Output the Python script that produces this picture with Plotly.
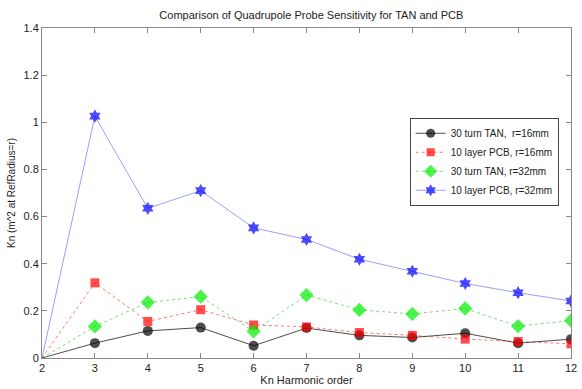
import plotly.graph_objects as go

harmonic = [2, 3, 4, 5, 6, 7, 8, 9, 10, 11, 12]
tan_16 = [0, 0.063, 0.115, 0.129, 0.052, 0.127, 0.096, 0.087, 0.105, 0.063, 0.080]
pcb_16 = [0, 0.319, 0.155, 0.205, 0.140, 0.132, 0.108, 0.096, 0.080, 0.070, 0.060]
tan_32 = [0, 0.134, 0.236, 0.260, 0.113, 0.267, 0.204, 0.187, 0.210, 0.135, 0.159]
pcb_32 = [0, 1.026, 0.635, 0.710, 0.552, 0.503, 0.419, 0.368, 0.316, 0.277, 0.242]

names = ["30 turn TAN,  r=16mm", "10 layer PCB, r=16mm", "30 turn TAN, r=32mm", "10 layer PCB, r=32mm"]
series = [tan_16, pcb_16, tan_32, pcb_32]
colors = ["#000000", "#ff0000", "#00ee00", "#0000ff"]
line_colors = ["rgba(0,0,0,0.7)", "rgba(255,0,0,0.55)", "rgba(0,200,0,0.55)", "rgba(60,60,255,0.5)"]
dashes = ["solid", "dot", "dot", "solid"]
symbols = ["circle", "square", "diamond", "hexagram"]
sizes = [10, 9, 11, 10]

fig = go.Figure()
for n, s, c, lc, d, sym, sz in zip(names, series, colors, line_colors, dashes, symbols, sizes):
    fig.add_trace(go.Scatter(
        x=harmonic, y=s, name=n, mode="lines+markers",
        line=dict(color=lc, width=1, dash=d),
        marker=dict(symbol=sym, size=[0] + [sz] * (len(s) - 1), color=c, line=dict(width=0)),
    ))

fig.update_layout(
    width=582, height=389,
    margin=dict(l=42, r=5, t=28, b=29),
    paper_bgcolor="white", plot_bgcolor="white",
    font=dict(family="Liberation Sans, Arial, sans-serif", size=11, color="#222"),
    title=dict(text="Comparison of Quadrupole Probe Sensitivity for TAN and PCB",
               x=0.535, xanchor="center", y=0.962, yanchor="middle",
               font=dict(size=11, color="#222")),
    showlegend=True,
    legend=dict(x=0.695, y=0.728, xanchor="left", yanchor="top",
                bgcolor="white", bordercolor="#444", borderwidth=1,
                font=dict(size=10, color="#222"), tracegroupgap=0,
                itemwidth=30),
)
fig.update_xaxes(
    range=[2, 12], dtick=1, tick0=2, showgrid=False, zeroline=False,
    showline=True, linecolor="#888", linewidth=1, mirror="ticks",
    ticks="inside", ticklen=5, tickcolor="#888", ticklabeloverflow="allow",
    title=dict(text="Kn Harmonic order", standoff=2, font=dict(size=11)),
)
fig.update_yaxes(
    range=[0, 1.4], dtick=0.2, tick0=0, showgrid=False, zeroline=False,
    showline=True, linecolor="#888", linewidth=1, mirror="ticks",
    ticks="inside", ticklen=5, tickcolor="#888",
    tickvals=[0, 0.2, 0.4, 0.6, 0.8, 1.0, 1.2, 1.4],
    ticktext=["0", "0.2", "0.4", "0.6", "0.8", "1", "1.2", "1.4"],
    title=dict(text="Kn (m^2 at RefRadius=r)", standoff=6, font=dict(size=10)),
)

fig.write_html("out.html")
